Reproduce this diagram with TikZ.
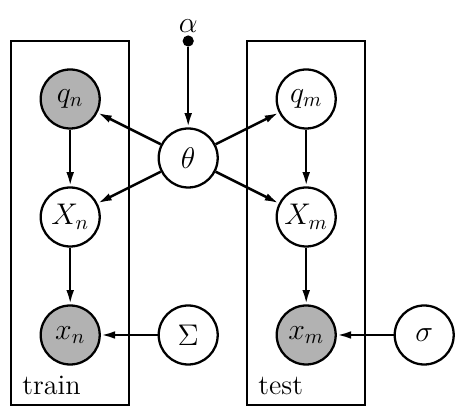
\documentclass[tikz,border=0pt]{standalone}
\usepackage{amsmath}
\usepackage{amssymb}
\usepackage{tikz}
\usetikzlibrary{arrows.meta}

\begin{document}
\begin{tikzpicture}[>={Latex[length=0.24cm,width=0.13cm]},
    font=\fontsize{13.6}{16}\selectfont,
    latent/.style={circle,draw,line width=1.1pt,minimum size=1cm,inner sep=0pt,fill=white},
    obs/.style={latent,fill=black!30},
    dot/.style={circle,fill,inner sep=0pt,minimum size=0.19cm},
    plate/.style={draw,line width=1pt,minimum width=2cm,minimum height=6.17cm},
    edge/.style={->,line width=1.2pt}]
  \useasboundingbox (0,0) rectangle (7.966,-7.085);
  \node[plate] (train) at (1.19,-3.78) {};
  \node[plate] (test) at (5.19,-3.78) {};
  \node[anchor=base west,inner sep=0pt] (trainlabel) at ([shift={(0.2,0.19)}]train.south west) {train};
  \node[anchor=base west,inner sep=0pt] (testlabel) at ([shift={(0.2,0.19)}]test.south west) {test};
  \node[dot,label={[inner sep=1pt]above:$\alpha$}] (alpha) at (3.19,-0.695) {};
  \node[latent] (theta) at (3.19,-2.678) {$\theta$};
  \node[obs] (qn) at (1.19,-1.678) {$q_n$};
  \node[latent] (Xn) at (1.19,-3.678) {$X_n$};
  \node[obs] (xn) at (1.19,-5.678) {$x_n$};
  \node[latent] (Sigma) at (3.19,-5.678) {$\Sigma$};
  \node[latent] (qm) at (5.19,-1.678) {$q_m$};
  \node[latent] (Xm) at (5.19,-3.678) {$X_m$};
  \node[obs] (xm) at (5.19,-5.678) {$x_m$};
  \node[latent] (sigma) at (7.19,-5.678) {$\sigma$};
  \draw[edge] (alpha) -- (theta);
  \draw[edge] (theta) -- (qn);
  \draw[edge] (theta) -- (Xn);
  \draw[edge] (theta) -- (qm);
  \draw[edge] (theta) -- (Xm);
  \draw[edge] (qn) -- (Xn);
  \draw[edge] (Xn) -- (xn);
  \draw[edge] (qm) -- (Xm);
  \draw[edge] (Xm) -- (xm);
  \draw[edge] (Sigma) -- (xn);
  \draw[edge] (sigma) -- (xm);
\end{tikzpicture}
\end{document}
